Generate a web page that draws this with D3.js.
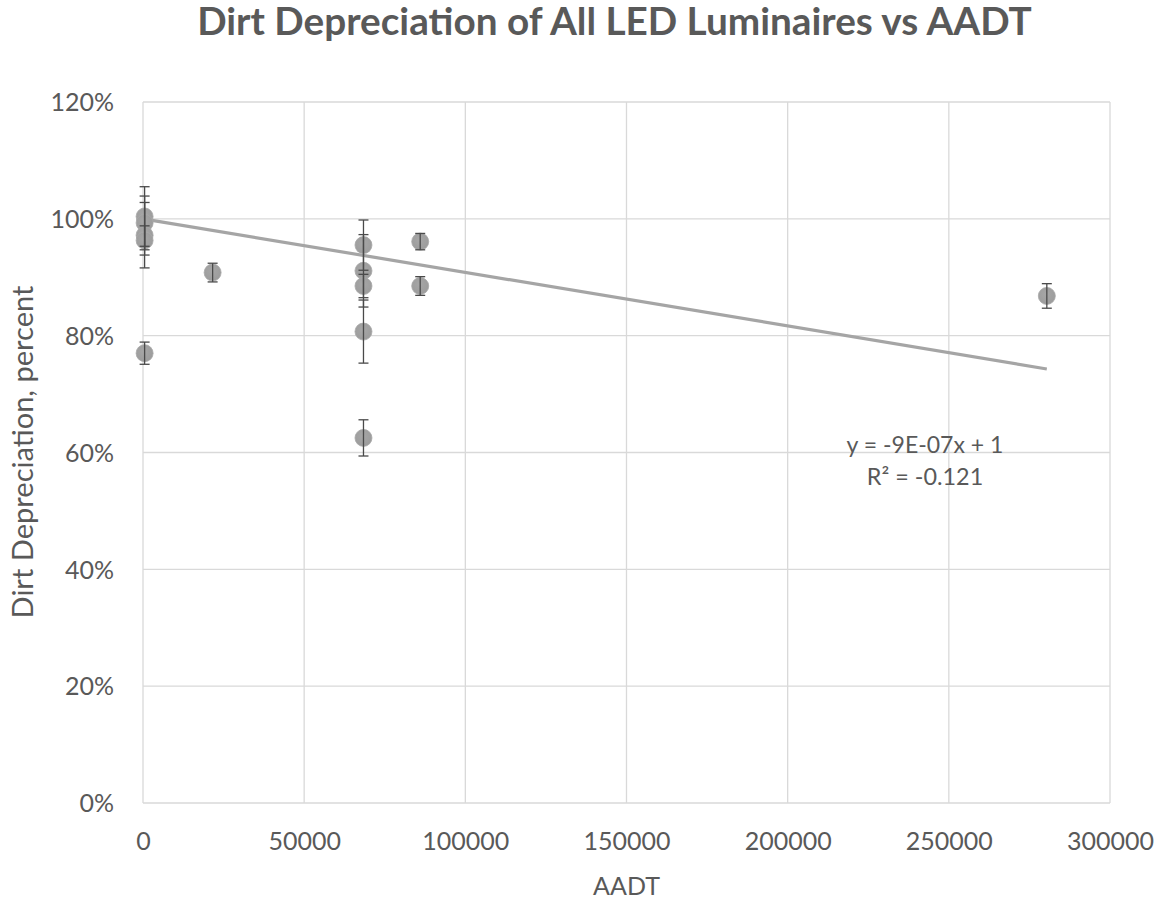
<!DOCTYPE html>
<html><head><meta charset="utf-8">
<script src="https://cdn.jsdelivr.net/npm/d3@7"></script>
<style>body{margin:0;background:#fff}svg{display:block}text{font-family:Lato,"Open Sans",sans-serif;fill:#595959}</style>
</head><body><svg id="c" width="1166" height="903"></svg>
<script>
// Data (AADT, dirt depreciation fraction, error +/-)
const aadt  = [500, 500, 500, 500, 500, 21600, 68400, 68400, 68400, 68400, 68400, 86000, 86000, 280400];
const depr  = [1.004, 0.993, 0.972, 0.963, 0.770, 0.908, 0.955, 0.911, 0.885, 0.807, 0.625, 0.961, 0.885, 0.868];
const err   = [0.051, 0.046, 0.056, 0.025, 0.019, 0.016, 0.043, 0.062, 0.020, 0.054, 0.031, 0.014, 0.016, 0.021];
const trendX = [0, 280400];
const trendY = [1.0, 0.743];
const xTicks = [0, 50000, 100000, 150000, 200000, 250000, 300000];
const yTicks = [0, 0.2, 0.4, 0.6, 0.8, 1.0, 1.2];
const titleText = "Dirt Depreciation of All LED Luminaires vs AADT";
const xTitle = "AADT";
const yTitle = "Dirt Depreciation, percent";
const eqLines = ["y = -9E-07x + 1", "R² = -0.121"];

const svg = d3.select("#c");
const L = 143, R = 1110, T = 102, B = 803;
const x = d3.scaleLinear().domain([0, 300000]).range([L, R]);
const y = d3.scaleLinear().domain([0, 1.2]).range([B, T]);

function fit(sel, w){ const n = sel.node(); const cur = parseFloat(sel.attr("font-size")); const m = n.getComputedTextLength(); sel.attr("font-size", cur * w / m); }

// gridlines
svg.append("g").selectAll("line").data(yTicks).join("line")
  .attr("x1", L).attr("x2", R).attr("y1", d => y(d)).attr("y2", d => y(d))
  .attr("stroke", "#d9d9d9").attr("stroke-width", 1.3);
svg.append("g").selectAll("line").data(xTicks).join("line")
  .attr("y1", T).attr("y2", B).attr("x1", d => x(d)).attr("x2", d => x(d))
  .attr("stroke", "#d9d9d9").attr("stroke-width", 1.3);

// axes labels via d3 axes (no domain/ticks)
const ax = svg.append("g").attr("transform", `translate(0,${B})`)
  .call(d3.axisBottom(x).tickValues(xTicks).tickFormat(d3.format("d")).tickSize(0).tickPadding(0));
ax.select(".domain").remove();
ax.selectAll("text").attr("font-size", 25).attr("dy", null).attr("y", 47).attr("fill", "#595959").style("font-family", "Lato");
const ay = svg.append("g").attr("transform", `translate(${L},0)`)
  .call(d3.axisLeft(y).tickValues(yTicks).tickFormat(d3.format(".0%")).tickSize(0).tickPadding(0));
ay.select(".domain").remove();
ay.selectAll("text").attr("font-size", 25).attr("dy", "0.35em").attr("x", -29).attr("fill", "#595959").style("font-family", "Lato");

// trendline
svg.append("path").datum(d3.zip(trendX, trendY))
  .attr("d", d3.line().x(d => x(d[0])).y(d => y(d[1])))
  .attr("stroke", "#a5a5a5").attr("stroke-width", 3.2).attr("fill", "none");

const pts = aadt.map((a, i) => ({a, v: depr[i], e: err[i]}));
// points
const grad = svg.append("defs").append("radialGradient").attr("id", "g").attr("cx", "45%").attr("cy", "40%").attr("r", "60%");
grad.append("stop").attr("offset", "0%").attr("stop-color", "#a6a6a6");
grad.append("stop").attr("offset", "100%").attr("stop-color", "#9c9c9c");
svg.append("g").selectAll("circle").data(pts).join("circle")
  .attr("cx", d => x(d.a)).attr("cy", d => y(d.v)).attr("r", 8.5)
  .attr("fill", "url(#g)").attr("stroke", "#a8a8a8").attr("stroke-width", 0.8);
// error bars
const eb = svg.append("g").attr("stroke", "#4a4a4a").attr("stroke-width", 1.3);
pts.forEach(d => {
  const cx = x(d.a), y1 = y(d.v + d.e), y2 = y(d.v - d.e);
  eb.append("line").attr("x1", cx).attr("x2", cx).attr("y1", y1).attr("y2", y2);
  eb.append("line").attr("x1", cx - 5).attr("x2", cx + 5).attr("y1", y1).attr("y2", y1);
  eb.append("line").attr("x1", cx - 5).attr("x2", cx + 5).attr("y1", y2).attr("y2", y2);
});

// title
const t = svg.append("text").attr("x", 614.5).attr("y", 35).attr("text-anchor", "middle")
  .attr("font-size", 34).attr("font-weight", "bold").text(titleText);
fit(t, 835);
svg.append("text").attr("x", (L + R) / 2).attr("y", 895).attr("text-anchor", "middle").attr("font-size", 25).text(xTitle);
const yt = svg.append("text").attr("transform", "translate(33,452) rotate(-90)").attr("text-anchor", "middle").attr("font-size", 25).text(yTitle);
fit(yt, 333);

// equation
eqLines.forEach((s, i) => {
  const e = svg.append("text").attr("x", 925).attr("y", 453 + i * 32).attr("text-anchor", "middle").attr("font-size", 21).text(s);
  if (i === 0) fit(e, 157);
  else e.attr("font-size", 21 * 157 / 141);
});
</script></body></html>
